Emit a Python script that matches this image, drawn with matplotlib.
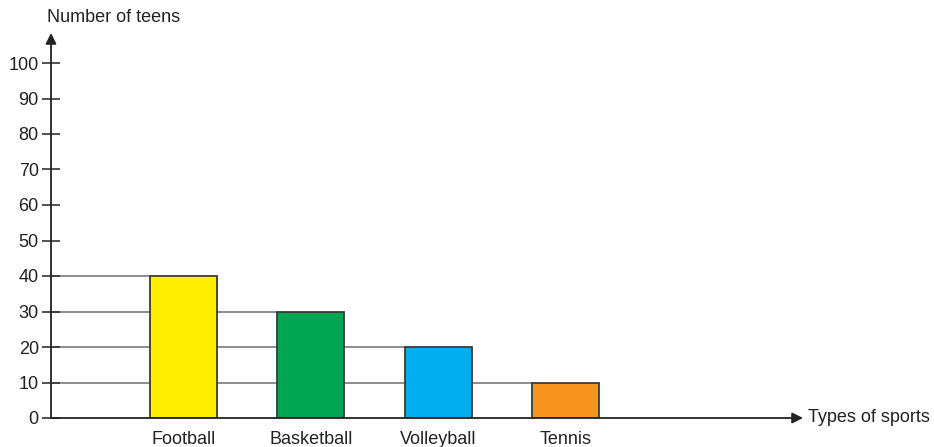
import matplotlib.pyplot as plt

sports = ['Football', 'Basketball', 'Volleyball', 'Tennis']
teens = [40, 30, 20, 10]
bar_colors = ['#FFEF00', '#00A651', '#00AEEF', '#F7941D']
y_ticks = list(range(0, 101, 10))

plt.rcParams['font.family'] = ['Liberation Sans', 'DejaVu Sans']
plt.rcParams['font.size'] = 13

fig = plt.figure(figsize=(9.34, 4.47), dpi=100)
W, H = 934, 447
# axes: y axis at x=51px, y=0 at 418px, y=100 at 63px, x arrow ends at 803px
ax = fig.add_axes([51 / W, (H - 418) / H, (803 - 51) / W, (418 - 63) / H])

step = 127.3
xmin = -(183.5 - 51) / step
xmax = xmin + (803 - 51) / step
width = 67 / step
pos = list(range(len(sports)))

# guide lines from the axis to each bar
ax.hlines(teens, xmin, [p - width / 2 for p in pos], color='#7a7a7a', lw=1.2, zorder=1)
ax.bar(pos, teens, width=width, color=bar_colors, edgecolor='#3a3a3a', lw=1.3, zorder=2)

ax.set_xlim(xmin, xmax)
ax.set_ylim(0, 100)
ax.set_yticks(y_ticks)
ax.set_xticks(pos)
ax.set_xticklabels(sports)
ax.tick_params(axis='y', direction='inout', length=12.5, width=1.2, color='#333333', pad=2.5,
               labelcolor='#222222')
ax.tick_params(axis='x', length=0, pad=9, labelcolor='#222222')

for s in ax.spines.values():
    s.set_visible(False)

arrow = dict(arrowstyle='-|>', color='#222222', lw=1.3, mutation_scale=16, shrinkA=0, shrinkB=0)
ax.annotate('', xy=(0, (418 - 33) / (418 - 63)), xytext=(0, 0), xycoords='axes fraction',
            arrowprops=arrow, annotation_clip=False)
ax.annotate('', xy=(1, 0), xytext=(0, 0), xycoords='axes fraction',
            arrowprops=arrow, annotation_clip=False)

ax.text(1 + 5 / (803 - 51), 0, 'Types of sports', transform=ax.transAxes, va='center',
        ha='left', color='#222222', clip_on=False)
fig.text(47 / W, 1 - 18 / H, 'Number of teens', va='center', ha='left', color='#222222')

fig.savefig('out.png', dpi=100)
